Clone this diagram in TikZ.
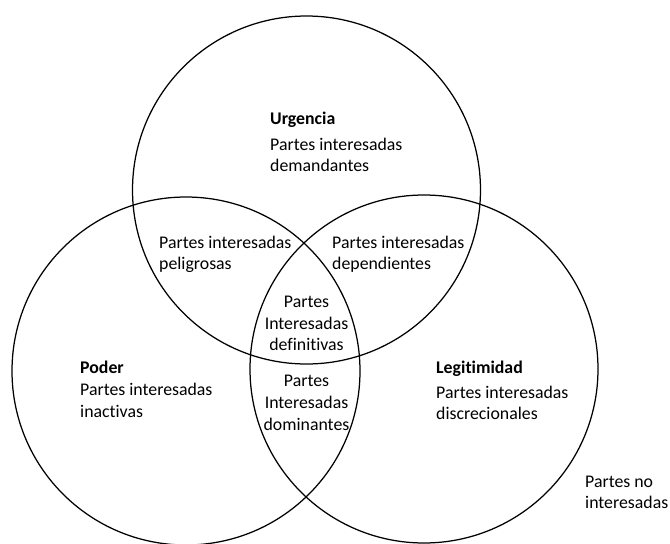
\documentclass[tikz,border=0pt]{standalone}
\usepackage{fontspec}
\setmainfont{Carlito}[Ligatures=NoCommon]
\begin{document}
\begin{tikzpicture}[x=1pt,y=-1pt,
  set/.style={circle,draw=black,line width=1.25pt,minimum size=348pt,inner sep=0pt},
  lbl/.style={inner sep=0pt,anchor=base west,font=\fontsize{17.8}{22}\selectfont},
  clbl/.style={inner sep=0pt,anchor=base,font=\fontsize{17.8}{22}\selectfont},
  ttl/.style={lbl,font=\fontsize{17.8}{22}\selectfont\bfseries}]
\useasboundingbox[fill=white] (0,0) rectangle (670,544);
% sets
\node[set] (urg) at (306.5,190) {};
\node[set] (pod) at (186,371) {};
\node[set] (leg) at (424,369) {};
% Urgencia
\node[ttl] (urgT) at (270,124) {Urgencia};
\node[lbl] (urgA) at (270,150) {Partes interesadas};
\node[lbl] (urgB) at (270,171) {demandantes};
% peligrosas
\node[lbl] (pelA) at (159,248) {Partes interesadas};
\node[lbl] (pelB) at (159,269) {peligrosas};
% dependientes
\node[lbl] (depA) at (332,248) {Partes interesadas};
\node[lbl] (depB) at (332,269) {dependientes};
% definitivas
\node[clbl] (defA) at (306.5,307) {Partes};
\node[clbl] (defB) at (306.5,329) {Interesadas};
\node[clbl] (defC) at (306.5,350) {definitivas};
% dominantes
\node[clbl] (domA) at (306.5,386) {Partes};
\node[clbl] (domB) at (306.5,408) {Interesadas};
\node[clbl] (domC) at (306.5,430) {dominantes};
% Poder
\node[ttl] (podT) at (80,373) {Poder};
\node[lbl] (podA) at (80,395) {Partes interesadas};
\node[lbl] (podB) at (80,417) {inactivas};
% Legitimidad
\node[ttl] (legT) at (436,373) {Legitimidad};
\node[lbl] (legA) at (436,398) {Partes interesadas};
\node[lbl] (legB) at (436,419) {discrecionales};
% no interesadas
\node[lbl] (noA) at (585,487) {Partes no};
\node[lbl] (noB) at (585,508) {interesadas};
\end{tikzpicture}
\end{document}
